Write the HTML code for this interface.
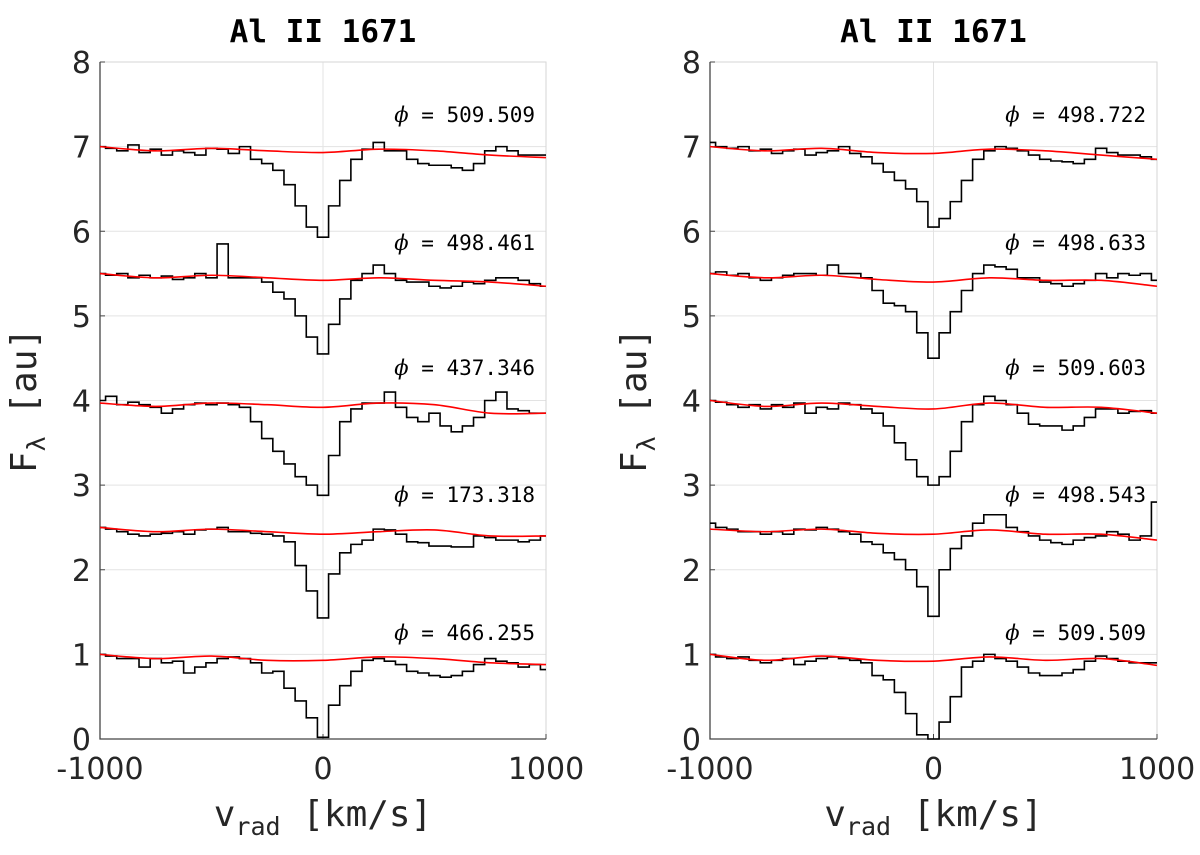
<!DOCTYPE html>
<html><head><meta charset="utf-8"><style>
html,body{margin:0;padding:0;background:#fff;}
svg text{font-family:"DejaVu Sans Mono","Liberation Mono",monospace;}
</style></head><body>
<svg id="chart" width="1200" height="850" viewBox="0 0 1200 850" xmlns="http://www.w3.org/2000/svg"></svg>
<script>
const velocities = [-1000,-950,-900,-850,-800,-750,-700,-650,-600,-550,-500,-450,-400,-350,-300,-250,-200,-150,-100,-50,0,50,100,150,200,250,300,350,400,450,500,550,600,650,700,750,800,850,900,950,1000];
const contVel = [-1000,-750,-500,-250,0,250,500,750,1000];
const yTicks = [0,1,2,3,4,5,6,7,8];
const xTicks = [-1000,0,1000];

const leftPhases = ["509.509","498.461","437.346","173.318","466.255"];
const leftLabelY = [7.29,5.78,4.3,2.8,1.17];
const leftFlux = [
[7.0,6.98,6.95,7.02,6.93,6.97,6.9,6.95,6.93,6.9,6.98,6.97,6.92,7.0,6.85,6.8,6.72,6.55,6.3,6.05,5.93,6.3,6.6,6.85,6.97,7.05,6.95,6.95,6.85,6.8,6.78,6.78,6.75,6.72,6.8,6.95,7.0,6.95,6.9,6.9,6.9],
[5.5,5.48,5.5,5.45,5.48,5.45,5.47,5.43,5.45,5.5,5.45,5.85,5.45,5.45,5.45,5.4,5.28,5.2,5.0,4.75,4.55,4.9,5.2,5.42,5.5,5.6,5.5,5.42,5.4,5.4,5.35,5.33,5.35,5.4,5.38,5.42,5.45,5.45,5.42,5.38,5.35],
[4.0,4.05,3.95,3.98,3.95,3.92,3.85,3.9,3.95,3.97,3.95,3.97,3.95,3.92,3.75,3.55,3.4,3.25,3.1,3.0,2.88,3.35,3.75,3.9,3.97,3.97,4.1,3.92,3.8,3.75,3.85,3.7,3.63,3.7,3.8,4.0,4.1,3.9,3.88,3.85,3.85],
[2.5,2.48,2.45,2.42,2.4,2.42,2.43,2.45,2.42,2.47,2.48,2.5,2.45,2.45,2.43,2.42,2.4,2.33,2.05,1.75,1.43,1.95,2.2,2.3,2.35,2.48,2.47,2.42,2.33,2.32,2.28,2.28,2.27,2.27,2.4,2.38,2.35,2.35,2.33,2.35,2.4],
[1.0,0.98,0.95,0.95,0.85,0.95,0.9,0.92,0.78,0.85,0.9,0.95,0.97,0.95,0.9,0.78,0.8,0.6,0.45,0.25,0.02,0.4,0.63,0.8,0.93,0.95,0.92,0.88,0.8,0.78,0.75,0.73,0.75,0.8,0.88,0.95,0.92,0.9,0.85,0.88,0.82]
];
const leftCont = [
[7.0,6.95,6.98,6.95,6.93,6.97,6.95,6.9,6.87],
[5.5,5.45,5.48,5.45,5.42,5.45,5.42,5.4,5.35],
[3.97,3.93,3.97,3.95,3.92,3.97,3.95,3.85,3.85],
[2.5,2.45,2.48,2.45,2.42,2.45,2.47,2.4,2.4],
[1.0,0.95,0.98,0.93,0.93,0.97,0.95,0.9,0.88]
];

const rightPhases = ["498.722","498.633","509.603","498.543","509.509"];
const rightLabelY = [7.29,5.78,4.3,2.8,1.17];
const rightFlux = [
[7.05,7.0,6.98,7.0,6.95,6.97,6.92,6.95,6.97,6.9,6.93,6.95,7.0,6.92,6.88,6.8,6.7,6.6,6.5,6.35,6.05,6.15,6.35,6.6,6.85,6.95,7.0,6.98,6.95,6.9,6.85,6.83,6.82,6.8,6.85,6.98,6.93,6.9,6.9,6.88,6.85],
[5.5,5.52,5.48,5.5,5.45,5.42,5.45,5.48,5.5,5.5,5.48,5.6,5.5,5.5,5.45,5.3,5.15,5.12,5.05,4.8,4.5,4.8,5.05,5.3,5.5,5.6,5.58,5.55,5.45,5.45,5.4,5.38,5.35,5.38,5.42,5.5,5.45,5.5,5.48,5.5,5.42],
[4.0,3.98,3.95,3.92,3.95,3.9,3.95,3.92,3.97,3.85,3.92,3.9,3.97,3.95,3.9,3.85,3.7,3.5,3.3,3.1,3.0,3.1,3.4,3.75,3.95,4.05,4.0,3.95,3.85,3.72,3.7,3.7,3.65,3.7,3.8,3.9,3.9,3.85,3.87,3.88,3.85],
[2.55,2.5,2.48,2.45,2.45,2.42,2.45,2.42,2.48,2.47,2.5,2.48,2.45,2.42,2.33,2.3,2.2,2.12,2.0,1.8,1.45,2.0,2.25,2.4,2.55,2.65,2.65,2.5,2.45,2.4,2.35,2.32,2.3,2.35,2.38,2.4,2.45,2.42,2.35,2.4,2.8],
[1.0,0.97,0.95,0.97,0.93,0.9,0.93,0.95,0.88,0.92,0.95,0.97,0.95,0.93,0.9,0.75,0.7,0.55,0.3,0.05,0.0,0.2,0.5,0.85,0.92,1.0,0.95,0.92,0.85,0.78,0.75,0.75,0.78,0.82,0.92,0.98,0.95,0.92,0.9,0.9,0.9]
];
const rightCont = [
[7.0,6.95,6.98,6.93,6.92,6.97,6.95,6.9,6.85],
[5.5,5.45,5.48,5.43,5.4,5.45,5.42,5.42,5.35],
[4.0,3.93,3.97,3.93,3.9,3.97,3.92,3.92,3.85],
[2.48,2.45,2.48,2.43,2.42,2.47,2.42,2.42,2.35],
[1.0,0.93,0.98,0.93,0.92,0.97,0.93,0.95,0.87]
];

const NS="http://www.w3.org/2000/svg";
const svg=document.getElementById('chart');
function mk(tag,attrs,parent){const e=document.createElementNS(NS,tag);for(const k in attrs)e.setAttribute(k,attrs[k]);(parent||svg).appendChild(e);return e;}

function panel(id,x0,x1,fluxes,conts,phases,labelY){
  const y0=739,y1=62;
  const sx=v=>x0+(v+1000)/2000*(x1-x0);
  const sy=f=>y0-(f-0)/8*(y0-y1);
  const g=mk('g',{});
  
  
  yTicks.forEach(t=>{const l=mk('line',{x1:x0,x2:x1,y1:sy(t),y2:sy(t),stroke:'#e3e3e3','stroke-width':1},g);});
  xTicks.forEach(t=>{const l=mk('line',{x1:sx(t),x2:sx(t),y1:y1,y2:y0,stroke:'#e3e3e3','stroke-width':1},g);});
  mk('rect',{x:x0,y:y1,width:x1-x0,height:y0-y1,fill:'none',stroke:'#d6d6d6','stroke-width':1},g);
  const ax=mk('path',{d:`M${x0},${y1}V${y0}H${x1}`,fill:'none',stroke:'#444','stroke-width':1.3},g);
  
  yTicks.forEach(t=>{
    mk('line',{x1:x0,x2:x0+5,y1:sy(t),y2:sy(t),stroke:'#444'},g);
    const tx=mk('text',{x:x0-9,y:sy(t)+11,'text-anchor':'end','font-size':30,fill:'#262626',style:'font-family:"DejaVu Sans",sans-serif'},g);
    tx.textContent=t;
  });
  xTicks.forEach(t=>{
    mk('line',{x1:sx(t),x2:sx(t),y1:y0,y2:y0-5,stroke:'#444'},g);
    const tx=mk('text',{x:sx(t),y:y0+40,'text-anchor':'middle','font-size':30,fill:'#262626',style:'font-family:"DejaVu Sans",sans-serif'},g);
    tx.textContent=(t<0?'-':'')+Math.abs(t);
  });
  fluxes.forEach((fl,i)=>{
    let d='';
    fl.forEach((f,j)=>{
      const xa=sx(Math.max(-1000,velocities[j]-25)), xb=sx(Math.min(1000,velocities[j]+25));
      d+=(j===0?`M${xa},${sy(f)}`:`V${sy(f)}`)+`H${xb}`;
    });
    const p=mk('path',{d:d,fill:'none',stroke:'#000','stroke-width':1.6},g);
    
    const c=conts[i];
    let cd='';
    for(let j=0;j<c.length;j++){
      const px=sx(contVel[j]),py=sy(c[j]);
      if(j===0){cd=`M${px},${py}`;continue;}
      const p0=[sx(contVel[Math.max(0,j-2)]),sy(c[Math.max(0,j-2)])],p1=[sx(contVel[j-1]),sy(c[j-1])],p3=[sx(contVel[Math.min(c.length-1,j+1)]),sy(c[Math.min(c.length-1,j+1)])];
      const c1x=p1[0]+(px-p0[0])/6,c1y=p1[1]+(py-p0[1])/6,c2x=px-(p3[0]-p1[0])/6,c2y=py-(p3[1]-p1[1])/6;
      cd+=`C${c1x},${c1y} ${c2x},${c2y} ${px},${py}`;
    }
    const cp=mk('path',{d:cd,fill:'none',stroke:'#ff0000','stroke-width':1.6},g);
    
    const lt=mk('text',{x:x1-11,y:sy(labelY[i]),'text-anchor':'end','font-size':21,fill:'#000'},g);
    lt.innerHTML='<tspan font-style="italic" style="font-family:\'DejaVu Serif\',serif">\u03d5</tspan> = '+phases[i];
    
  });
  const title=mk('text',{x:(x0+x1)/2,y:42,'text-anchor':'middle','font-size':31,'font-weight':'bold',fill:'#000'},g);
  title.textContent='Al II 1671';
  const xl=mk('text',{x:(x0+x1)/2,y:826,'text-anchor':'middle','font-size':36,fill:'#262626'},g);
  xl.innerHTML='v<tspan font-size="25" dy="9">rad</tspan><tspan dy="-9"> [km/s]</tspan>';
  
  const yl=mk('text',{x:0,y:0,'text-anchor':'middle','font-size':36,fill:'#262626',transform:`translate(${x0-64},${(y0+y1)/2}) rotate(-90)`},g);
  yl.innerHTML='F<tspan font-size="25" dy="9">\u03bb</tspan><tspan dy="-9"> [au]</tspan>';
  
}
panel('left',100,546,leftFlux,leftCont,leftPhases,leftLabelY);
panel('right',710,1157,rightFlux,rightCont,rightPhases,rightLabelY);
</script>
</body></html>
